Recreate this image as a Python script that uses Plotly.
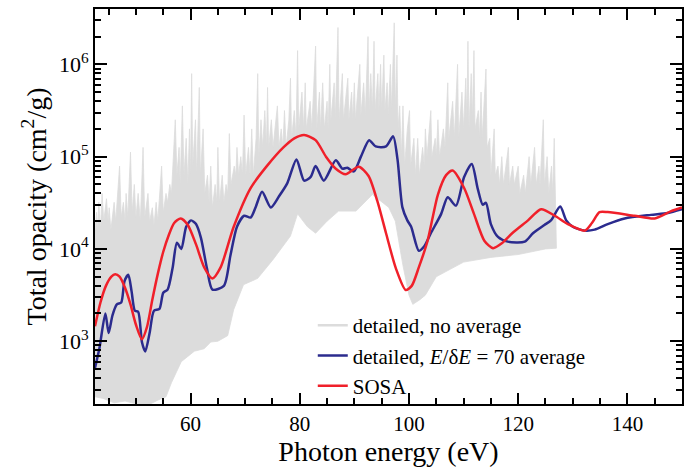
import plotly.graph_objects as go

# ---------------- data ----------------
# Detailed spectrum (no average): spiky upper envelope and lower envelope
gray_hi_E = [42.5, 42.8, 43.0, 43.2, 43.5, 43.8, 44.1, 44.6, 44.9, 45.1, 45.4, 46.0, 46.3, 47.0, 47.3,
             47.7, 48.0, 48.2, 48.5, 49.0, 49.3, 49.7, 50.0, 50.4, 50.8, 51.3, 51.6, 52.2, 52.5, 53.0,
             53.3, 53.7, 54.0, 54.7, 55.0, 55.5, 55.8, 56.2, 56.5, 57.2, 57.5, 57.9, 58.1, 58.5, 58.8,
             59.2, 59.5, 59.8, 60.0, 60.2, 60.4, 60.9, 61.1, 61.6, 61.8, 62.3, 62.6, 63.1, 63.4, 63.7,
             64.0, 64.5, 64.8, 65.0, 65.3, 65.8, 66.1, 66.5, 66.8, 67.1, 67.4, 68.0, 68.3, 68.5, 68.8,
             69.2, 69.5, 69.8, 70.1, 70.6, 70.9, 71.2, 71.5, 72.0, 72.3, 72.5, 72.9, 73.2, 73.6, 73.9,
             74.1, 74.3, 74.8, 75.1, 75.9, 76.2, 76.6, 76.9, 77.2, 77.5, 78.0, 78.3, 78.5, 79.0, 79.3,
             79.6, 79.8, 80.4, 80.7, 81.0, 81.2, 81.9, 82.2, 82.6, 82.9, 83.1, 83.6, 83.8, 84.2, 84.5,
             85.0, 85.2, 85.5, 85.7, 86.3, 86.5, 87.0, 87.2, 87.8, 88.0, 88.8, 89.0, 89.5, 89.7, 90.0,
             90.2, 91.0, 91.2, 91.7, 92.0, 92.5, 92.7, 93.0, 93.3, 93.6, 93.8, 94.3, 94.5, 94.8, 95.0,
             95.4, 95.6, 96.0, 96.2, 96.6, 96.8, 97.3, 97.5, 97.8, 98.0, 98.3, 98.6, 98.9, 99.2, 99.7,
             100.1, 100.3, 100.9, 101.2, 101.6, 101.9, 102.5, 102.8, 103.0, 103.3, 104.0, 104.2, 104.8,
             105.0, 105.3, 105.6, 106.3, 106.6, 107.1, 107.3, 108.0, 108.3, 108.9, 109.1, 109.7, 110.0,
             110.4, 110.6, 110.8, 111.0, 111.4, 111.6, 111.9, 112.1, 112.7, 112.9, 113.2, 113.4, 114.1,
             114.3, 114.8, 115.0, 115.6, 115.8, 116.3, 116.6, 117.0, 117.3, 118.2, 118.4, 119.0, 119.3,
             120.0, 120.3, 121.0, 121.3, 122.0, 122.3, 123.0, 123.3, 123.8, 124.0, 124.6, 124.8, 125.3,
             125.6, 126.1, 126.3, 126.6, 126.8, 127.0]
gray_hi = [16000, 25000, 16000, 32000, 16000, 40000, 20000, 35000, 20000, 28000, 16000, 32000, 20000,
           79000, 22000, 32000, 20000, 40000, 22000, 112000, 25000, 50000, 22000, 40000, 20000, 126000,
           22000, 40000, 20000, 28000, 18000, 32000, 20000, 79000, 25000, 40000, 32000, 50000, 40000,
           251000, 63000, 126000, 50000, 355000, 63000, 158000, 50000, 200000, 63000, 794000, 79000,
           251000, 63000, 562000, 63000, 200000, 40000, 63000, 32000, 79000, 28000, 50000, 32000,
           126000, 32000, 63000, 32000, 50000, 40000, 178000, 50000, 79000, 63000, 126000, 63000,
           100000, 63000, 282000, 63000, 126000, 63000, 200000, 63000, 158000, 794000, 100000, 251000,
           126000, 316000, 126000, 562000, 126000, 251000, 126000, 355000, 126000, 200000, 126000,
           316000, 126000, 251000, 708000, 158000, 316000, 158000, 1410000, 200000, 501000, 200000,
           631000, 200000, 398000, 200000, 708000, 1580000, 200000, 501000, 200000, 631000, 200000,
           398000, 200000, 1000000, 251000, 631000, 251000, 2510000, 251000, 794000, 251000, 708000,
           251000, 501000, 251000, 631000, 251000, 1000000, 282000, 631000, 282000, 2000000, 316000,
           794000, 316000, 1780000, 316000, 794000, 316000, 1000000, 316000, 1260000, 316000, 631000,
           282000, 1000000, 316000, 2820000, 316000, 1260000, 200000, 355000, 100000, 355000, 79000,
           200000, 316000, 79000, 158000, 63000, 158000, 63000, 126000, 79000, 200000, 100000, 316000,
           100000, 158000, 100000, 251000, 100000, 200000, 126000, 631000, 158000, 398000, 158000,
           1000000, 158000, 501000, 200000, 708000, 251000, 1780000, 200000, 794000, 251000, 1410000,
           200000, 316000, 158000, 501000, 158000, 891000, 126000, 158000, 63000, 200000, 63000, 79000,
           50000, 100000, 50000, 126000, 50000, 79000, 50000, 79000, 40000, 63000, 40000, 100000,
           50000, 126000, 50000, 79000, 50000, 251000, 50000, 100000, 40000, 79000, 40000, 158000,
           40000, 20000]
gray_lo_E = [42.5, 44, 46, 48, 50, 52, 54, 55.5, 56.5, 58.3, 60.7, 62.5, 63.7, 65, 66.8, 67.9, 69.7,
             72.3, 75.2, 78.3, 79.6, 81.4, 82.9, 85, 87.1, 90.3, 93.3, 96.3, 97.5, 98.9, 100, 100.7,
             102, 103, 105, 110, 115, 120, 125, 127]
gray_lo = [250, 240, 215, 225, 210, 200, 230, 250, 355, 600, 780, 830, 980, 1000, 1150, 2200, 4100,
           4800, 7800, 13800, 24000, 17400, 14800, 20000, 25700, 25700, 38900, 28200, 20000, 6600,
           3160, 2510, 2820, 3160, 5000, 7200, 8100, 8700, 10000, 10200]

# Detailed, E/dE = 70 average
avg_E = [42.5, 43.3, 44.4, 45, 45.7, 46.5, 47.3, 47.9, 48.6, 49.2, 49.8, 50.4, 51.1, 51.7, 52.5, 53.3,
         54.3, 55, 55.8, 56.7, 57.5, 58.3, 59.2, 60.1, 61, 61.9, 63, 64, 66.1, 67.3, 68.5, 69.8, 71,
         71.9, 73.1, 74.7, 76.2, 77.7, 79.4, 80.8, 82, 82.9, 84.4, 86.6, 87.8, 88.7, 89.9, 91.2, 92.7,
         93.9, 95.8, 97.1, 97.9, 98.8, 99.7, 100.4, 101.8, 102.8, 104, 105.9, 107.1, 108.6, 110.1,
         111.5, 112.6, 113.5, 114.1, 115, 116.3, 118.1, 121.2, 122.7, 124.8, 126, 127.7, 128.8, 130,
         132.2, 134, 136.4, 139.5, 144.3, 147.4, 150]
avg_val = [513, 832, 2000, 1230, 1910, 2510, 2630, 4470, 5250, 3470, 2140, 2090, 977, 776, 1230, 2140,
           2240, 3350, 3630, 6170, 11700, 10000, 17400, 20400, 18600, 13200, 6170, 3630, 3980, 8510,
           17400, 22900, 21900, 28200, 41700, 28200, 37200, 51300, 93300, 55000, 60300, 79400, 55000,
           91200, 74100, 75900, 69200, 100000, 151000, 129000, 129000, 166000, 93300, 28200, 20400,
           17400, 9550, 10700, 14800, 24000, 36300, 29500, 60300, 83200, 44700, 30200, 31600, 18600,
           13500, 12000, 12000, 14800, 18200, 20400, 28800, 20400, 17400, 15800, 16200, 18600, 21400,
           23400, 24500, 26900]

# SOSA
sosa_E = [42.5, 43.5, 44.5, 45.5, 46.2, 47, 48, 49, 50, 51.1, 52, 53, 54, 55, 56, 57, 58.2, 59.5, 61,
          62.5, 64, 65.5, 67.9, 71, 74, 77, 79, 80.8, 82.9, 84.8, 86.6, 88.4, 90.8, 92.6, 94.2, 95.8,
          97.6, 99.4, 100.5, 101.8, 103.4, 105.3, 106.8, 108, 110.1, 111.9, 113.8, 115.4, 117, 118.9,
          121.8, 124.2, 126.7, 129.1, 132.2, 133.5, 134.9, 136.4, 141.3, 145, 148, 150]
sosa_val = [1450, 2630, 3980, 5010, 5310, 5010, 3800, 2510, 1510, 1050, 1410, 2820, 5370, 9330, 14100,
            19100, 21400, 18200, 11200, 6310, 4790, 6310, 17400, 45700, 79400, 126000, 158000, 172000,
            151000, 100000, 74100, 64600, 77600, 61700, 33100, 14800, 6170, 3590, 3980, 6310, 12200,
            38900, 63100, 70800, 45700, 24000, 12300, 10200, 11500, 14800, 20400, 26900, 22900, 18600,
            15800, 19100, 25100, 25100, 22900, 21400, 25700, 28200]

x_ticks = [60, 80, 100, 120, 140]
y_ticks = [1e3, 1e4, 1e5, 1e6]
y_ticktext = ["10<sup>3</sup>", "10<sup>4</sup>", "10<sup>5</sup>", "10<sup>6</sup>"]

names = ["detailed, no average", "detailed, <i>E</i>/δ<i>E</i> = 70 average", "SOSA"]

# ---------------- figure ----------------
GRAY = "#dcdcdc"
BLUE = "#2b2b8e"
RED = "#f0202a"
FONT = "Liberation Serif, Times New Roman, serif"

fig = go.Figure()
fig.add_trace(go.Scatter(
    x=gray_hi_E + gray_lo_E[::-1], y=gray_hi + gray_lo[::-1],
    mode="lines", fill="toself", fillcolor=GRAY,
    line=dict(color=GRAY, width=0.8), showlegend=False, hoverinfo="skip"))
fig.add_trace(go.Scatter(x=[None], y=[None], mode="lines", name=names[0],
                         line=dict(color=GRAY, width=2.5)))
fig.add_trace(go.Scatter(x=avg_E, y=avg_val, mode="lines", name=names[1],
                         line=dict(color=BLUE, width=2.5, shape="spline", smoothing=0.7)))
fig.add_trace(go.Scatter(x=sosa_E, y=sosa_val, mode="lines", name=names[2],
                         line=dict(color=RED, width=2.5, shape="spline", smoothing=0.7)))

x_minor = [v for v in range(45, 150, 5) if v % 20 != 0]
y_minor = [m * 10 ** d for d in range(2, 7) for m in range(2, 10)]

fig.update_layout(
    width=691, height=469,
    margin=dict(l=95, r=9, t=7, b=54),
    paper_bgcolor="white", plot_bgcolor="white",
    font=dict(family=FONT, color="black"),
    showlegend=True,
    legend=dict(x=0.371, y=-0.005, xanchor="left", yanchor="bottom",
                bgcolor="rgba(0,0,0,0)", font=dict(size=21, family=FONT),
                tracegroupgap=0, itemwidth=30),
    xaxis=dict(
        range=[42.5, 150], tickmode="array", tickvals=x_ticks,
        ticks="inside", ticklen=11, tickwidth=1.5, tickcolor="black",
        showline=True, linewidth=2, linecolor="black", mirror="allticks",
        showgrid=False, zeroline=False,
        tickfont=dict(size=21, family=FONT),
        minor=dict(tickmode="array", tickvals=x_minor, ticks="inside", ticklen=6,
                   tickwidth=1.5, tickcolor="black", showgrid=False),
        title=dict(text="Photon energy (eV)", font=dict(size=28, family=FONT), standoff=6),
    ),
    yaxis=dict(
        type="log", range=[2.32, 6.6], tickmode="array", tickvals=y_ticks, ticktext=y_ticktext,
        ticks="inside", ticklen=12, tickwidth=1.5, tickcolor="black",
        showline=True, linewidth=2, linecolor="black", mirror="allticks",
        showgrid=False, zeroline=False,
        tickfont=dict(size=22, family=FONT),
        minor=dict(tickmode="array", tickvals=y_minor, ticks="inside", ticklen=6,
                   tickwidth=1.5, tickcolor="black", showgrid=False),
        title=dict(text="Total opacity (cm<sup>2</sup>/g)", font=dict(size=28, family=FONT), standoff=4),
    ),
)

fig.write_html("out.html")
